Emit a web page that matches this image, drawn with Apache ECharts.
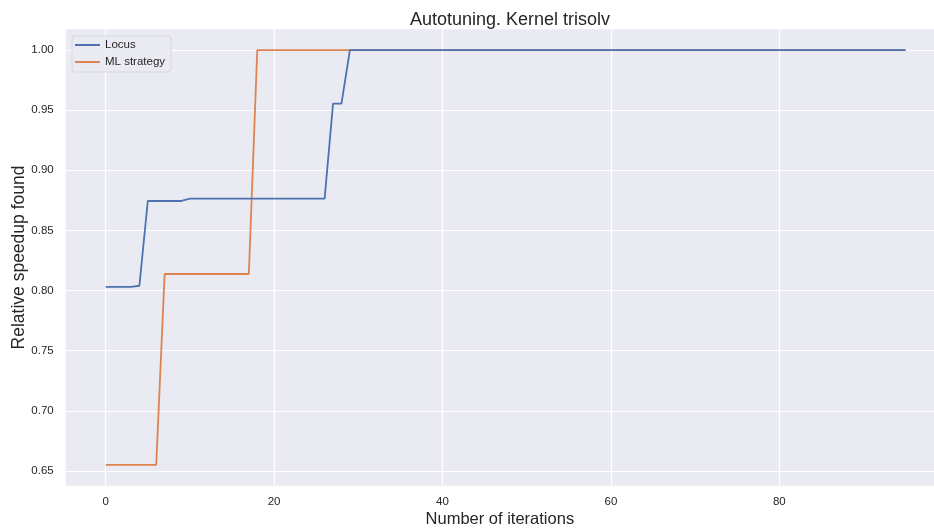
<!DOCTYPE html>
<html>
<head>
<meta charset="utf-8">
<script src="https://cdn.jsdelivr.net/npm/echarts@6/dist/echarts.min.js"></script>
<style>
html,body{margin:0;padding:0;background:#fff;}
#chart{width:934px;height:532px;}
</style>
</head>
<body>
<div id="chart"></div>
<script>
var iterations = [
  0,1,2,3,4,5,6,7,8,9,
  10,11,12,13,14,15,16,17,18,19,
  20,21,22,23,24,25,26,27,28,29,
  30,31,32,33,34,35,36,37,38,39,
  40,41,42,43,44,45,46,47,48,49,
  50,51,52,53,54,55,56,57,58,59,
  60,61,62,63,64,65,66,67,68,69,
  70,71,72,73,74,75,76,77,78,79,
  80,81,82,83,84,85,86,87,88,89,
  90,91,92,93,94,95
];
var locus = [
  0.803,0.803,0.803,0.803,0.804,0.8745,0.8745,0.8745,0.8745,0.8745,
  0.8764,0.8764,0.8764,0.8764,0.8764,0.8764,0.8764,0.8764,0.8764,0.8764,
  0.8764,0.8764,0.8764,0.8764,0.8764,0.8764,0.8764,0.9554,0.9554,1.0,
  1.0,1.0,1.0,1.0,1.0,1.0,1.0,1.0,1.0,1.0,
  1.0,1.0,1.0,1.0,1.0,1.0,1.0,1.0,1.0,1.0,
  1.0,1.0,1.0,1.0,1.0,1.0,1.0,1.0,1.0,1.0,
  1.0,1.0,1.0,1.0,1.0,1.0,1.0,1.0,1.0,1.0,
  1.0,1.0,1.0,1.0,1.0,1.0,1.0,1.0,1.0,1.0,
  1.0,1.0,1.0,1.0,1.0,1.0,1.0,1.0,1.0,1.0,
  1.0,1.0,1.0,1.0,1.0,1.0
];
var mlStrategy = [
  0.655,0.655,0.655,0.655,0.655,0.655,0.655,0.8138,0.8138,0.8138,
  0.8138,0.8138,0.8138,0.8138,0.8138,0.8138,0.8138,0.8138,1.0,1.0,
  1.0,1.0,1.0,1.0,1.0,1.0,1.0,1.0,1.0,1.0,
  1.0,1.0,1.0,1.0,1.0,1.0,1.0,1.0,1.0,1.0,
  1.0,1.0,1.0,1.0,1.0,1.0,1.0,1.0,1.0,1.0,
  1.0,1.0,1.0,1.0,1.0,1.0,1.0,1.0,1.0,1.0,
  1.0,1.0,1.0,1.0,1.0,1.0,1.0,1.0,1.0,1.0,
  1.0,1.0,1.0,1.0,1.0,1.0,1.0,1.0,1.0,1.0,
  1.0,1.0,1.0,1.0,1.0,1.0,1.0,1.0,1.0,1.0,
  1.0,1.0,1.0,1.0,1.0,1.0
];
var xTicks = [0, 20, 40, 60, 80];
var yTicks = [0.65, 0.70, 0.75, 0.80, 0.85, 0.90, 0.95, 1.00];
var seriesNames = ['Locus', 'ML strategy'];

function pairs(xs, ys) {
  return xs.map(function (x, i) { return [x, ys[i]]; });
}

var FONT = '"Liberation Sans", Arial, sans-serif';
var chart = echarts.init(document.getElementById('chart'), null, {renderer: 'canvas'});
chart.setOption({
  animation: false,
  backgroundColor: '#ffffff',
  title: {
    text: 'Autotuning. Kernel trisolv',
    left: 505, top: 6, textAlign: 'center',
    textStyle: {fontFamily: FONT, fontSize: 18, fontWeight: 'normal', color: '#262626'}
  },
  legend: {
    orient: 'vertical',
    left: 72, top: 36,
    padding: [2, 6, 3, 2],
    itemWidth: 25, itemHeight: 14, itemGap: 3,
    backgroundColor: 'rgba(234,234,242,0.8)',
    borderColor: '#d6d6dc', borderWidth: 1, borderRadius: 3,
    itemStyle: {opacity: 0},
    textStyle: {fontFamily: FONT, fontSize: 11.5, color: '#262626', lineHeight: 14},
    data: seriesNames
  },
  grid: {left: 65.7, right: 0, top: 29.3, bottom: 46.3, outerBoundsMode: 'none', containLabel: false,
    show: true, backgroundColor: '#EAEAF2', borderWidth: 0},
  xAxis: {
    type: 'value', min: -4.75, max: 98.37,
    name: 'Number of iterations', nameLocation: 'middle', nameGap: 25, nameMoveOverlap: false,
    nameTextStyle: {fontFamily: FONT, fontSize: 16.5, color: '#262626'},
    axisLine: {show: false},
    axisTick: {show: false, customValues: xTicks},
    axisLabel: {customValues: xTicks, fontFamily: FONT, fontSize: 11.5, color: '#262626', margin: 10},
    splitLine: {show: true, lineStyle: {color: '#ffffff', width: 1.2}}
  },
  yAxis: {
    type: 'value', min: 0.63775, max: 1.01725,
    name: 'Relative speedup found', nameLocation: 'middle', nameGap: 38, nameMoveOverlap: false,
    nameTextStyle: {fontFamily: FONT, fontSize: 17.5, color: '#262626'},
    axisLine: {show: false},
    axisTick: {show: false, customValues: yTicks},
    axisLabel: {customValues: yTicks, fontFamily: FONT, fontSize: 11.5, color: '#262626', margin: 12,
      formatter: function (v) { return v.toFixed(2); }},
    splitLine: {show: true, lineStyle: {color: '#ffffff', width: 1.2}}
  },
  series: [
    {name: seriesNames[0], type: 'line', data: pairs(iterations, locus), symbol: 'none', showSymbol: false,
     lineStyle: {color: '#4C72B0', width: 1.8}, itemStyle: {color: '#4C72B0'}, z: 3},
    {name: seriesNames[1], type: 'line', data: pairs(iterations, mlStrategy), symbol: 'none', showSymbol: false,
     lineStyle: {color: '#DD8452', width: 1.8}, itemStyle: {color: '#DD8452'}, z: 2}
  ]
});
</script>
</body>
</html>
